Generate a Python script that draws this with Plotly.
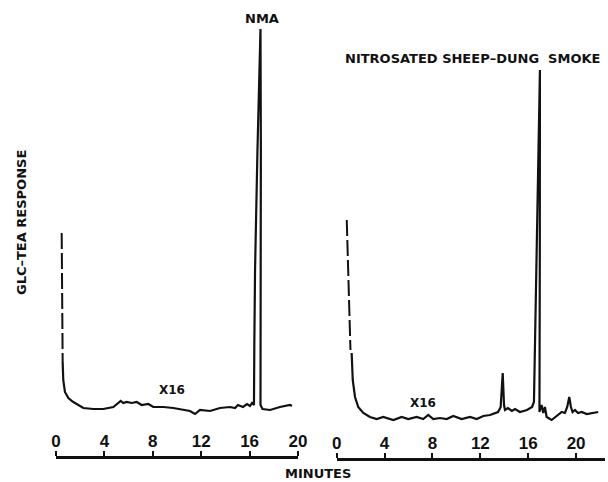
import plotly.graph_objects as go

# ---- data (minutes, GLC-TEA response in arbitrary units) ----
left_dash_t = [0.47, 0.55]
left_dash_v = [227, 98]
left_t = [0.55, 0.60, 0.74, 1.02, 1.43, 2.26, 3.08, 3.91, 4.74, 5.35, 5.56, 5.84, 6.26, 6.67,
          7.08, 7.63, 8.04, 8.87, 9.69, 10.52, 11.07, 11.49, 11.90, 12.73, 13.55, 14.38, 14.79,
          15.04, 15.45, 15.79, 16.03, 16.20, 16.36, 16.39, 16.45, 16.65, 16.90, 16.93, 16.90,
          17.07, 17.69, 18.51, 19.34, 19.50]
left_v = [98, 80, 68, 62, 58, 52, 51, 51, 53, 59, 57, 58, 57, 58,
          55, 56, 53, 53, 52, 50, 49, 46, 50, 49, 52, 53, 52,
          55, 53, 56, 54, 57, 55, 115, 190, 310, 431, 310, 55,
          51, 50, 53, 55, 54]

right_dash_t = [0.84, 1.15]
right_dash_v = [240, 110]
right_t = [1.25, 1.34, 1.53, 1.80, 2.22, 2.78, 3.34, 3.89, 4.73, 5.43, 5.98, 6.68, 7.23, 7.65,
           8.07, 8.63, 9.19, 9.74, 10.44, 11.14, 11.70, 12.25, 12.81, 13.48, 13.70, 13.87, 13.98,
           14.06, 14.31, 14.64, 14.90, 15.31, 15.90, 16.32, 16.48, 16.55, 16.71, 16.86, 16.98,
           16.97, 16.94, 17.12, 17.26, 17.40, 17.54, 17.96, 18.49, 18.80, 19.07, 19.26, 19.43,
           19.57, 19.71, 19.91, 20.16, 20.47, 20.89, 21.44, 21.85]
right_v = [107, 80, 63, 53, 47, 43, 41, 43, 40, 43, 41, 43, 41, 45,
           41, 42, 41, 44, 41, 43, 41, 44, 45, 48, 53, 87, 55,
           50, 52, 49, 51, 48, 50, 53, 58, 110, 190, 300, 390,
           200, 48, 55, 47, 53, 43, 40, 45, 48, 47, 53, 63,
           53, 48, 50, 47, 48, 46, 47, 48]

tick_vals = [0, 4, 8, 12, 16, 20]
tick_text = ["0", "4", "8", "12", "16", "20"]

TICK_FONT = "Liberation Sans"
LABEL_FONT = "DejaVu Sans"
INK = "#111111"

fig = go.Figure()
line_style = dict(color=INK, width=2.2)
fig.add_trace(go.Scatter(x=left_dash_t, y=left_dash_v, mode="lines", xaxis="x", yaxis="y",
                         line=dict(color=INK, width=2, dash="16px,4px")))
fig.add_trace(go.Scatter(x=left_t, y=left_v, mode="lines", xaxis="x", yaxis="y", line=line_style))
fig.add_trace(go.Scatter(x=right_dash_t, y=right_dash_v, mode="lines", xaxis="x2", yaxis="y",
                         line=dict(color=INK, width=2, dash="16px,4px")))
fig.add_trace(go.Scatter(x=right_t, y=right_v, mode="lines", xaxis="x2", yaxis="y", line=line_style))

axis_common = dict(side="top", anchor="free", showline=True, linecolor=INK, linewidth=2.5,
                   ticks="outside", ticklen=5, tickwidth=2, tickcolor=INK,
                   tickvals=tick_vals, ticktext=tick_text, showgrid=False, zeroline=False,
                   automargin=False, ticklabelstandoff=-3,
                   tickfont=dict(family=TICK_FONT, size=17, color=INK, weight="bold"),
                   fixedrange=True)

fig.update_layout(
    template="none",
    width=608, height=482, autosize=False,
    margin=dict(l=0, r=0, t=0, b=0, pad=0),
    paper_bgcolor="white", plot_bgcolor="white",
    showlegend=False,
    xaxis=dict(domain=[56/608, 298/608], range=[0, 20], position=25/482, **axis_common),
    xaxis2=dict(domain=[336.7/608, 604.8/608], range=[0, 22.4], position=23/482, **axis_common),
    yaxis=dict(domain=[0, 1], range=[-22, 460], visible=False, fixedrange=True, automargin=False),
)

ann_font = dict(family=LABEL_FONT, size=13, color=INK, weight="bold")
fig.add_annotation(text="NMA", x=261.5/608, y=1 - 19/482, xref="paper", yref="paper",
                   showarrow=False, font=ann_font, xanchor="center", yanchor="middle")
fig.add_annotation(text="NITROSATED SHEEP\u2013DUNG\u00a0\u00a0SMOKE", x=343/608, y=1 - 58/482,
                   xref="paper", yref="paper", showarrow=False,
                   font=dict(family=LABEL_FONT, size=13, color=INK, weight="bold"),
                   xanchor="left", yanchor="middle")
fig.add_annotation(text="X16", x=172/608, y=1 - 390/482, xref="paper", yref="paper",
                   showarrow=False, font=dict(family=LABEL_FONT, size=12, color=INK, weight="bold"),
                   xanchor="center", yanchor="middle")
fig.add_annotation(text="X16", x=423/608, y=1 - 403/482, xref="paper", yref="paper",
                   showarrow=False, font=dict(family=LABEL_FONT, size=12, color=INK, weight="bold"),
                   xanchor="center", yanchor="middle")
fig.add_annotation(text="MINUTES", x=318/608, y=1 - 473/482, xref="paper", yref="paper",
                   showarrow=False, font=ann_font, xanchor="center", yanchor="middle")
fig.add_annotation(text="GLC\u2013TEA RESPONSE", x=21/608, y=1 - 223/482, xref="paper",
                   yref="paper", showarrow=False, font=ann_font, textangle=-90,
                   xanchor="center", yanchor="middle")

fig.write_html("out.html", config={"displayModeBar": False})
